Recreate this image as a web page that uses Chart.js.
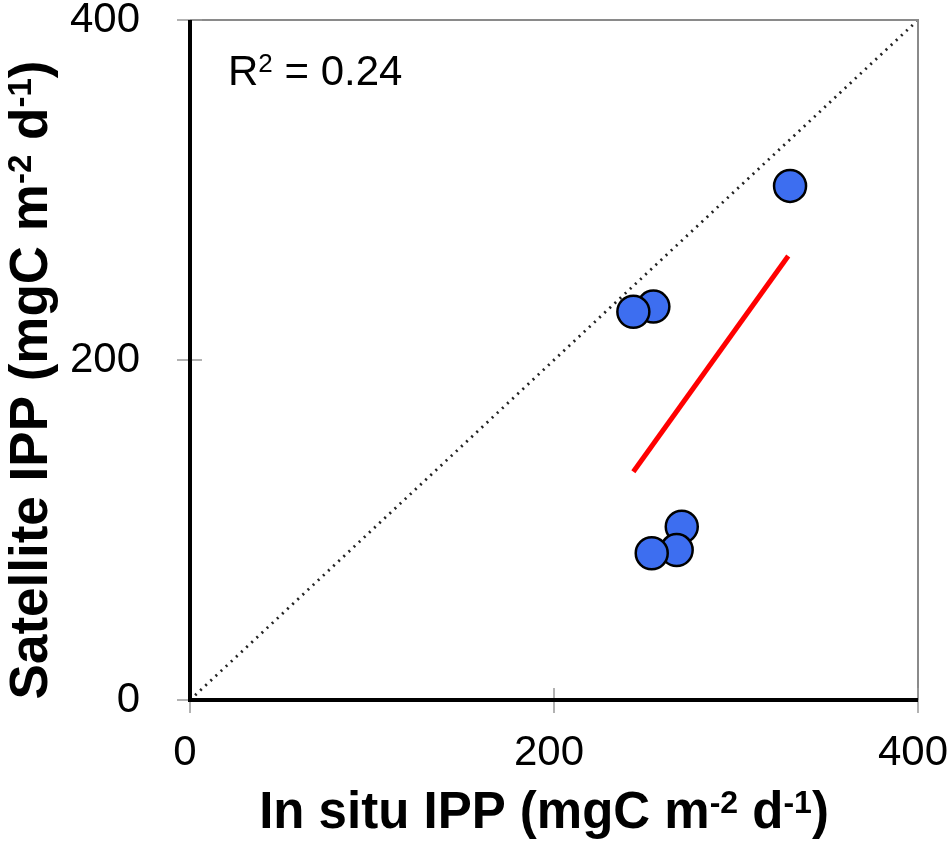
<!DOCTYPE html>
<html>
<head>
<meta charset="utf-8">
<title>Satellite vs in situ IPP</title>
<script src="https://cdn.jsdelivr.net/npm/chart.js@4/dist/chart.umd.min.js"></script>
<style>
  html, body { margin: 0; padding: 0; background: #fff; }
  #wrap { width: 950px; height: 846px; position: relative; }
</style>
</head>
<body>
<div id="wrap"><canvas id="myChart"></canvas></div>
<script>
// values (mgC m-2 d-1)
const inSitu = [329.7, 254.6, 243.6, 270.2, 267.4, 253.7];
const satellite = [302.4, 231.4, 228.4, 101.9, 88.2, 86.3];
const fitX = [243.6, 328.7];
const fitY = [134.3, 261.2];
const oneToOne = [0, 400];
const tickValues = [0, 200, 400];
const r2Label = "0.24";

const FONT = "'Liberation Sans', Arial, sans-serif";
const ctx = document.getElementById("myChart").getContext("2d");

const toPoints = (xs, ys) => xs.map((x, i) => ({ x: x, y: ys[i] }));

// text with superscript pieces, parts = [[text, isSup], ...]
function drawRich(c, parts, size, bold, x, y, align) {
  const main = (bold ? "bold " : "") + size + "px " + FONT;
  const sup = (bold ? "bold " : "") + Math.round(size * 0.62) + "px " + FONT;
  let width = 0;
  parts.forEach((p) => {
    c.font = p[1] ? sup : main;
    width += c.measureText(p[0]).width;
  });
  let cx = align === "center" ? x - width / 2 : x;
  c.textAlign = "left";
  c.textBaseline = "alphabetic";
  parts.forEach((p) => {
    c.font = p[1] ? sup : main;
    c.fillText(p[0], cx, p[1] ? y - size * 0.3 : y);
    cx += c.measureText(p[0]).width;
  });
}

const decorations = {
  id: "decorations",
  afterDraw(chart) {
    const c = chart.ctx;
    const a = chart.chartArea;
    const xs = chart.scales.x;
    const ys = chart.scales.y;
    c.save();
    // thin grey frame top and right
    c.strokeStyle = "#8a8a8a";
    c.lineWidth = 2;
    c.beginPath();
    c.moveTo(a.left, a.top);
    c.lineTo(a.right, a.top);
    c.lineTo(a.right, a.bottom);
    c.stroke();
    // crossing tick marks
    c.lineWidth = 1.5;
    c.strokeStyle = "#999";
    tickValues.forEach((v) => {
      const px = xs.getPixelForValue(v);
      c.beginPath();
      c.moveTo(px, a.bottom - 12);
      c.lineTo(px, a.bottom + 13);
      c.stroke();
      const py = ys.getPixelForValue(v);
      c.beginPath();
      c.moveTo(a.left - 13, py);
      c.lineTo(a.left + 12, py);
      c.stroke();
    });
    // black axes
    c.strokeStyle = "#000";
    c.lineWidth = 4;
    c.beginPath();
    c.moveTo(a.left, a.top);
    c.lineTo(a.left, a.bottom);
    c.lineTo(a.right, a.bottom);
    c.stroke();

    c.fillStyle = "#000";
    drawRich(c, [["R", false], ["2", true], [" = " + r2Label, false]], 42, false, a.left + 38, a.top + 65, "left");
    drawRich(c, [["In situ IPP (mgC m", false], ["-2", true], [" d", false], ["-1", true], [")", false]],
      51, true, 544, 828, "center");
    c.translate(47, 380);
    c.rotate(-Math.PI / 2);
    drawRich(c, [["Satellite IPP (mgC m", false], ["-2", true], [" d", false], ["-1", true], [")", false]],
      53, true, 0, 0, "center");
    c.restore();
  },
};

new Chart(ctx, {
  type: "scatter",
  data: {
    datasets: [
      {
        label: "Stations",
        data: toPoints(inSitu, satellite),
        backgroundColor: "#3d6ef0",
        borderColor: "#000",
        borderWidth: 2.5,
        pointRadius: 16,
        pointHoverRadius: 16,
      },
      {
        label: "Regression",
        data: toPoints(fitX, fitY),
        showLine: true,
        borderColor: "#ff0000",
        borderWidth: 5,
        pointRadius: 0,
        fill: false,
      },
      {
        label: "1:1",
        data: toPoints(oneToOne, oneToOne),
        showLine: true,
        borderColor: "#222",
        borderWidth: 2.8,
        borderDash: [2, 5],
        pointRadius: 0,
        fill: false,
      },
    ],
  },
  options: {
    responsive: true,
    maintainAspectRatio: false,
    animation: false,
    layout: { padding: { top: 20, right: 32, left: 0, bottom: 0 } },
    plugins: { legend: { display: false }, tooltip: { enabled: false } },
    scales: {
      x: {
        type: "linear",
        min: 0,
        max: 400,
        grid: { display: false, drawTicks: false },
        border: { display: false },
        ticks: {
          stepSize: 200,
          maxRotation: 0,
          padding: 28,
          labelOffset: -5,
          color: "#000",
          font: { family: FONT, size: 42 },
        },
        afterFit(scale) {
          scale.height = 146;
          scale.paddingLeft = 0;
          scale.paddingRight = 0;
        },
      },
      y: {
        type: "linear",
        min: 0,
        max: 400,
        grid: { display: false, drawTicks: false },
        border: { display: false },
        ticks: {
          stepSize: 200,
          padding: 50,
          color: "#000",
          font: { family: FONT, size: 42 },
        },
        afterFit(scale) {
          scale.width = 190;
          scale.paddingTop = 0;
          scale.paddingBottom = 0;
        },
      },
    },
  },
  plugins: [decorations],
});
</script>
</body>
</html>
